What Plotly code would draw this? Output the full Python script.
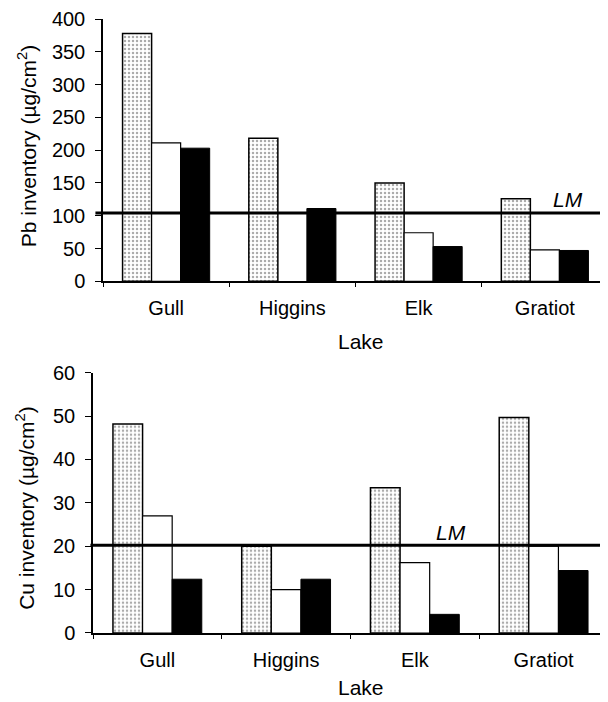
import plotly.graph_objects as go

lakes = ["Gull", "Higgins", "Elk", "Gratiot"]

# Pb inventory (µg/cm²) — three cores per lake
pb_stippled = [378, 218, 150, 126]
pb_white = [211, None, 74, 48]
pb_black = [203, 111, 53, 47]
pb_lm = 104

# Cu inventory (µg/cm²)
cu_stippled = [48.2, 20, 33.5, 49.7]
cu_white = [27, 10, 16.2, 20]
cu_black = [12.4, 12.4, 4.3, 14.4]
cu_lm = 20.2

pb_ticks = [0, 50, 100, 150, 200, 250, 300, 350, 400]
cu_ticks = [0, 10, 20, 30, 40, 50, 60]

FONT = "Arial, Liberation Sans, sans-serif"
OFF = 8  # page body margin
W, H = 608 - OFF, 702 - OFF
ML, MR, MT, MB = 93 - OFF, 0, 15 - OFF, 702 - 633
PW, PH = W - ML - MR, H - MT - MB


def px_(x):
    return (x - OFF - ML) / PW


def py(y):
    return 1 - (y - OFF - MT) / PH


fig = go.Figure()

stip = dict(color="white", line=dict(color="black", width=1.5),
            pattern=dict(shape=".", fgcolor="#555555", bgcolor="white", size=4, solidity=0.3))
white = dict(color="white", line=dict(color="black", width=1.2))
black = dict(color="black", line=dict(color="black", width=1))

for xa, ya, vals in [("x", "y", (pb_stippled, pb_white, pb_black)),
                     ("x2", "y2", (cu_stippled, cu_white, cu_black))]:
    for v, m in zip(vals, (stip, white, black)):
        fig.add_trace(go.Bar(x=lakes, y=v, marker=m, xaxis=xa, yaxis=ya,
                             showlegend=False))

axis_common = dict(showline=True, linecolor="black", linewidth=1.5, ticks="outside",
                   tickcolor="black", showgrid=False, zeroline=False,
                   tickfont=dict(family=FONT, size=20, color="black"))

fig.update_layout(
    width=W, height=H,
    margin=dict(l=ML, r=MR, t=MT, b=MB),
    paper_bgcolor="white", plot_bgcolor="white",
    barmode="group", bargap=0.31, bargroupgap=0,
    xaxis=dict(domain=[px_(103), 1], anchor="y", tickson="boundaries",
               ticklen=4, ticklabelstandoff=8, **axis_common),
    yaxis=dict(domain=[py(279), py(15)], anchor="x", range=[0, 400], tickvals=pb_ticks,
               ticklen=6, ticklabelstandoff=6, **axis_common),
    xaxis2=dict(domain=[0, 1], anchor="y2", tickson="boundaries",
                ticklen=4, ticklabelstandoff=8, **axis_common),
    yaxis2=dict(domain=[py(633), py(371)], anchor="x2", range=[0, 60], tickvals=cu_ticks,
                ticklen=6, ticklabelstandoff=6, **axis_common),
)

# LM reference lines
fig.add_shape(type="line", xref="x domain", yref="y", x0=-0.015, x1=1, y0=pb_lm, y1=pb_lm,
              line=dict(color="black", width=3))
fig.add_shape(type="line", xref="x2 domain", yref="y2", x0=-0.005, x1=0.995, y0=cu_lm, y1=cu_lm,
              line=dict(color="black", width=3))

ann = dict(showarrow=False, font=dict(family=FONT, size=21, color="black"),
           xref="paper", yref="paper", xanchor="center", yanchor="middle")
fig.add_annotation(text="<i>LM</i>", x=px_(568), y=py(197), **ann)
fig.add_annotation(text="<i>LM</i>", x=px_(451), y=py(532), **ann)
fig.add_annotation(text="Lake", x=px_(361), y=py(340), **ann)
fig.add_annotation(text="Lake", x=px_(361), y=py(688), **ann)
fig.add_annotation(text="Pb inventory (µg/cm<sup>2</sup>)", x=px_(27), y=py(143),
                   textangle=-90, **ann)
fig.add_annotation(text="Cu inventory (µg/cm<sup>2</sup>)", x=px_(25), y=py(507),
                   textangle=-90, **ann)

fig.write_html("out.html")
